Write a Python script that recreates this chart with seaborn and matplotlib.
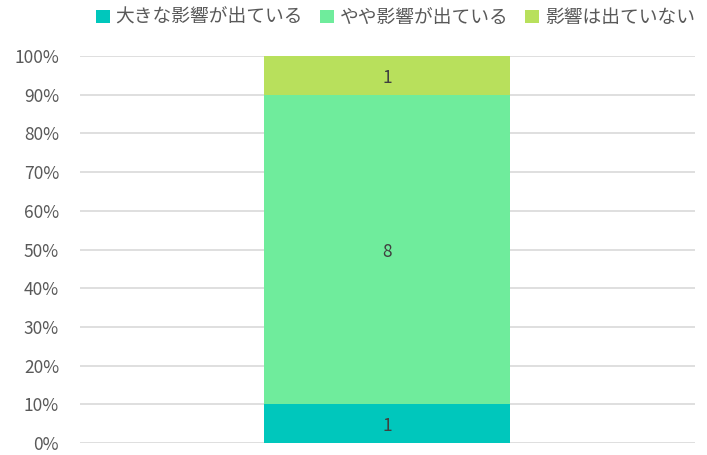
import numpy as np
import pandas as pd
import matplotlib
matplotlib.use("Agg")
import matplotlib.pyplot as plt
import seaborn as sns

# data
categories = [""]
series_names = ["大きな影響が出ている", "やや影響が出ている", "影響は出ていない"]
series_values = [1, 8, 1]
colors = ["#00C7BC", "#6FEC9C", "#B8E05C"]

sns.set_theme(style="white")
plt.rcParams["font.family"] = ["Noto Sans CJK JP", "DejaVu Sans"]

text_color = "#595959"

values = np.array(series_values, dtype=float)
shares = values / values.sum() * 100
tops = np.cumsum(shares)

fig = plt.figure(figsize=(7.07, 4.55), dpi=100)
ax = fig.add_axes([0.113, 0.026, 0.870, 0.851])

# draw stacked bars, tallest first so lower segments sit on top
for i in reversed(range(len(series_names))):
    df = pd.DataFrame({"cat": categories, "val": [tops[i]]})
    sns.barplot(data=df, x="cat", y="val", color=colors[i], width=0.4,
                saturation=1, ax=ax, label=series_names[i], zorder=2,
                linewidth=0, edgecolor="none")

# segment labels
bottoms = tops - shares
for i, v in enumerate(series_values):
    ax.text(0, bottoms[i] + shares[i] / 2 - 0.6, str(v), ha="center", va="center",
            fontsize=12.5, color="#404040", zorder=3)

ax.set_ylim(0, 100)
ax.set_xlim(-0.5, 0.5)
ax.set_yticks(np.arange(0, 101, 10))
ax.set_yticklabels([f"{t}%" for t in range(0, 101, 10)], fontsize=12.5, color=text_color)
ax.set_xticks([])
ax.set_xlabel("")
ax.set_ylabel("")
ax.yaxis.grid(True, color="#D9D9D9", linewidth=1.2, zorder=0)
ax.set_axisbelow(True)
ax.tick_params(axis="y", length=0, pad=15)
for s in ax.spines.values():
    s.set_visible(False)

handles, labels = ax.get_legend_handles_labels()
order = [labels.index(n) for n in series_names]
ax.legend([handles[k] for k in order], [labels[k] for k in order],
          loc="upper center", bbox_to_anchor=(0.513, 1.17), ncol=3, frameon=False,
          fontsize=13.5, handlelength=0.75, handleheight=0.75, handletextpad=0.3,
          columnspacing=0.9, labelcolor=text_color)

fig.savefig("out.png", dpi=100)
